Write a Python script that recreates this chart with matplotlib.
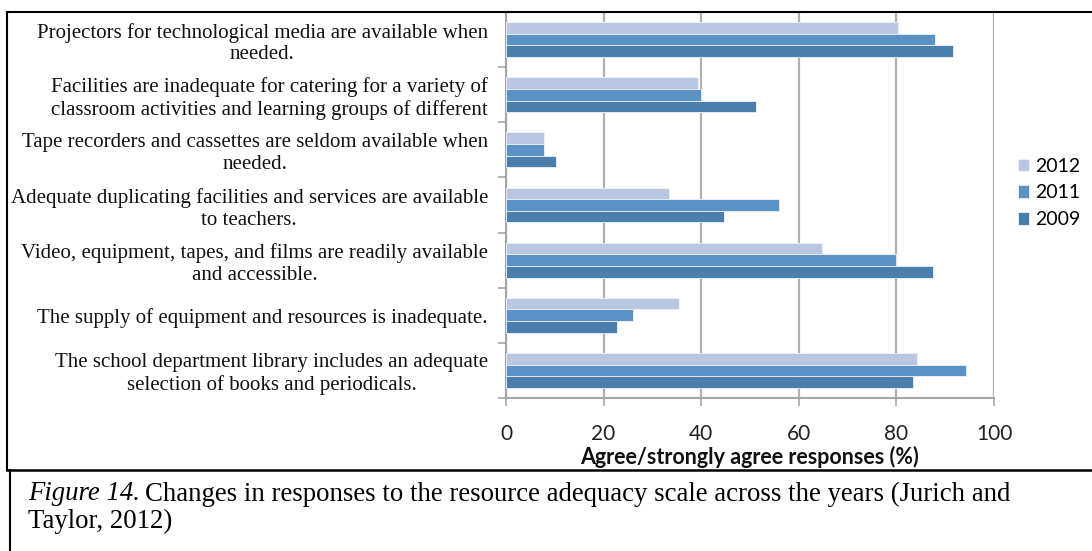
import numpy as np
import matplotlib
matplotlib.use("Agg")
import matplotlib.pyplot as plt
from matplotlib.lines import Line2D

# statements, top to bottom as they appear in the chart
statements = [
    "Projectors for technological media are available when\nneeded.",
    "Facilities are inadequate for catering for a variety of\nclassroom activities and learning groups of different",
    "Tape recorders and cassettes are seldom available when\nneeded.",
    "Adequate duplicating facilities and services are available\nto teachers.",
    "Video, equipment, tapes, and films are readily available\nand accessible.",
    "The supply of equipment and resources is inadequate.",
    "The school department library includes an adequate\nselection of books and periodicals.",
]
years = ["2012", "2011", "2009"]
vals_2012 = [80.4, 39.3, 7.8, 33.4, 64.7, 35.4, 84.3]
vals_2011 = [88.0, 40.0, 7.8, 55.9, 80.0, 26.1, 94.3]
vals_2009 = [91.7, 51.2, 10.3, 44.7, 87.4, 22.7, 83.5]
x_ticks = [0, 20, 40, 60, 80, 100]
colors = ["#B9C7E2", "#5B92C6", "#4A7EAD"]

W, H = 1092, 551
fig = plt.figure(figsize=(W / 100, H / 100), dpi=100)

def fx(px):
    return px / W

def fy(py):
    return 1 - py / H

ax = fig.add_axes([fx(506), fy(398), fx(994) - fx(506), fy(12) - fy(398)])

n = len(statements)
pos = np.arange(n) + 0.5
h = 0.21
for k, (vals, yr) in enumerate(zip([vals_2012, vals_2011, vals_2009], years)):
    ax.barh(pos + (k - 1) * h, vals, height=h, color=colors[k], label=yr,
            edgecolor="#EEF2F8", linewidth=0.6, zorder=3)

ax.set_xlim(0, 100)
ax.set_ylim(n, 0)
ax.set_xticks(x_ticks)
ax.set_xticklabels([str(t) for t in x_ticks], fontfamily="Lato", fontsize=15, color="#222222")
ax.set_yticks(pos)
ax.set_yticklabels(statements, fontfamily="Liberation Serif", fontsize=15, color="#111111")
for t in ax.get_yticklabels():
    t.set_multialignment("center")
    t.set_linespacing(1.2)
ax.set_yticks(np.arange(n + 1), minor=True)
ax.tick_params(axis="y", which="major", length=0, pad=13)
ax.tick_params(axis="y", which="minor", length=6, color="#A6A6A6", width=1.2)
ax.tick_params(axis="x", which="major", length=6, color="#A6A6A6", width=1.2, pad=13)

ax.grid(axis="x", color="#B0B0B0", linewidth=1.6, zorder=0)
ax.set_axisbelow(True)
for s in ["top", "right"]:
    ax.spines[s].set_visible(False)
for s in ["left", "bottom"]:
    ax.spines[s].set_color("#A6A6A6")
    ax.spines[s].set_linewidth(1.5)

ax.set_xlabel("Agree/strongly agree responses (%)", fontfamily="Lato", fontsize=15.5,
              fontweight="bold", color="#111111", labelpad=1)

leg = fig.legend(loc="center left", bbox_to_anchor=(fx(1000), fy(193)), frameon=False,
                 prop={"family": "Lato", "size": 14}, handlelength=0.6, handleheight=0.6,
                 handletextpad=0.3, labelspacing=0.5)

# frame lines
fig.add_artist(Line2D([fx(7), 1], [fy(12), fy(12)], color="black", linewidth=1.5))
fig.add_artist(Line2D([fx(7), fx(7)], [fy(12), fy(470)], color="black", linewidth=1.5))
fig.add_artist(Line2D([fx(7), 1], [fy(470), fy(470)], color="black", linewidth=1.8))
fig.add_artist(Line2D([fx(9.5), fx(9.5)], [fy(470), 0], color="black", linewidth=1.5))

# caption
cap_size = 19.3
cap1 = fig.text(fx(28), fy(494), "Figure 14.", fontfamily="Liberation Serif",
                fontstyle="italic", fontsize=cap_size, va="center", ha="left")
renderer = fig.canvas.get_renderer()
bb = cap1.get_window_extent(renderer)
fig.text(bb.x1 / W + fx(5), fy(494),
         "Changes in responses to the resource adequacy scale across the years (Jurich and",
         fontfamily="Liberation Serif", fontsize=cap_size, va="center", ha="left")
fig.text(fx(28), fy(521), "Taylor, 2012)", fontfamily="Liberation Serif", fontsize=cap_size,
         va="center", ha="left")

fig.savefig("out.png", dpi=100)
